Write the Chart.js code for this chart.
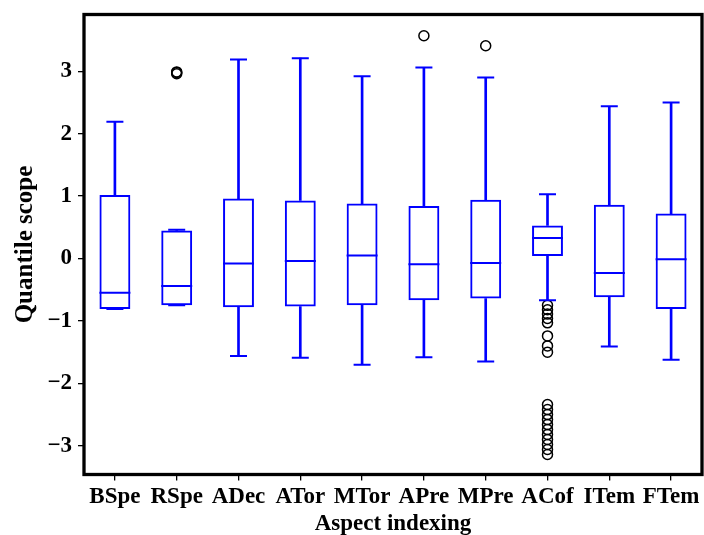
<!DOCTYPE html>
<html>
<head>
<meta charset="utf-8">
<script src="https://cdn.jsdelivr.net/npm/chart.js@4.4.0/dist/chart.umd.min.js"></script>
<style>
    html, body { margin: 0; padding: 0; background: #fff; }
    #wrap { width: 704px; height: 535px; }
</style>
</head>
<body>
<div id="wrap"><canvas id="graph" width="704" height="535"></canvas></div>
<script>
const categories = ['BSpe', 'RSpe', 'ADec', 'ATor', 'MTor', 'APre', 'MPre', 'ACof', 'ITem', 'FTem'];
const whiskerLow = [-0.81, -0.75, -1.56, -1.59, -1.70, -1.58, -1.65, -0.67, -1.41, -1.62];
const quartile1 = [-0.81, -0.75, -0.78, -0.77, -0.75, -0.67, -0.64, 0.04, -0.62, -0.81];
const medians = [-0.55, -0.44, -0.08, -0.04, 0.05, -0.09, -0.07, 0.33, -0.23, -0.01];
const quartile3 = [1.02, 0.45, 0.96, 0.93, 0.88, 0.84, 0.94, 0.53, 0.86, 0.72];
const whiskerHigh = [2.19, 0.46, 3.19, 3.21, 2.92, 3.06, 2.90, 1.03, 2.44, 2.50];

// outliers per category
const outliersRSpe = [2.96, 2.98, 2.99];
const outliersAPre = [3.57];
const outliersMPre = [3.41];
const outliersACof = [-0.75, -0.82, -0.89, -0.96, -1.03, -1.24, -1.40, -1.50,
    -2.34, -2.42, -2.50, -2.58, -2.66, -2.74, -2.82, -2.90, -2.98, -3.06, -3.14];

const yMin = -3.46;
const yMax = 3.91;

const BLUE = '#0000ff';
const FONT = "'Liberation Serif', 'Times New Roman', serif";

const outlierPoints = [];
outliersRSpe.forEach(v => outlierPoints.push({x: 'RSpe', y: v}));
outliersAPre.forEach(v => outlierPoints.push({x: 'APre', y: v}));
outliersMPre.forEach(v => outlierPoints.push({x: 'MPre', y: v}));
outliersACof.forEach(v => outlierPoints.push({x: 'ACof', y: v}));

const capPoints = [];
categories.forEach((c, i) => {
    capPoints.push({x: c, y: whiskerLow[i]});
    capPoints.push({x: c, y: whiskerHigh[i]});
});

// thick black frame round the plot area
const frame = {
    id: 'frame',
    afterDatasetsDraw(chart) {
        const {ctx, chartArea: a} = chart;
        ctx.save();
        ctx.strokeStyle = '#000';
        ctx.lineWidth = 3.3;
        ctx.strokeRect(a.left, a.top, a.right - a.left, a.bottom - a.top);
        ctx.restore();
    }
};

const graph = document.getElementById('graph');
new Chart(graph, {
    type: 'bar',
    data: {
        labels: categories,
        datasets: [{
            label: 'boxes',
            data: categories.map((c, i) => [quartile1[i], quartile3[i]]),
            backgroundColor: 'rgba(0,0,0,0)',
            borderColor: BLUE,
            borderWidth: 2,
            borderSkipped: false,
            barPercentage: 0.5,
            categoryPercentage: 1,
            grouped: false
        }, {
            label: 'upper whiskers',
            data: categories.map((c, i) => [quartile3[i], whiskerHigh[i]]),
            backgroundColor: BLUE,
            borderWidth: 0,
            barThickness: 2,
            grouped: false
        }, {
            label: 'lower whiskers',
            data: categories.map((c, i) => [whiskerLow[i], quartile1[i]]),
            backgroundColor: BLUE,
            borderWidth: 0,
            barThickness: 2,
            grouped: false
        }, {
            type: 'scatter',
            label: 'medians',
            data: categories.map((c, i) => ({x: c, y: medians[i]})),
            pointStyle: 'line',
            radius: 15.5,
            borderColor: BLUE,
            borderWidth: 2
        }, {
            type: 'scatter',
            label: 'caps',
            data: capPoints,
            pointStyle: 'line',
            radius: 8.5,
            borderColor: BLUE,
            borderWidth: 2
        }, {
            type: 'scatter',
            label: 'outliers',
            data: outlierPoints,
            pointStyle: 'circle',
            radius: 5,
            backgroundColor: 'rgba(0,0,0,0)',
            borderColor: '#000',
            borderWidth: 1.5
        }]
    },
    options: {
        responsive: false,
        animation: false,
        events: [],
        layout: {
            autoPadding: false,
            padding: {top: 14.5, right: 2, left: 0, bottom: 0}
        },
        plugins: {
            legend: {display: false},
            tooltip: {enabled: false}
        },
        scales: {
            x: {
                type: 'category',
                offset: true,
                grid: {
                    display: true,
                    offset: false,
                    drawOnChartArea: false,
                    drawTicks: true,
                    tickLength: 6,
                    color: '#000',
                    lineWidth: 1.3
                },
                border: {display: false},
                ticks: {
                    color: '#000',
                    padding: 3,
                    maxRotation: 0,
                    autoSkip: false,
                    font: {family: FONT, size: 23, weight: 'bold'}
                },
                title: {
                    display: true,
                    text: 'Aspect indexing',
                    color: '#000',
                    padding: {top: 0, bottom: -3},
                    font: {family: FONT, size: 23, weight: 'bold'}
                },
                afterFit(scale) {
                    scale.height = 60.5;
                    scale.paddingLeft = 0;
                    scale.paddingRight = 0;
                }
            },
            y: {
                type: 'linear',
                min: yMin,
                max: yMax,
                grid: {
                    display: true,
                    drawOnChartArea: false,
                    drawTicks: true,
                    tickLength: 6,
                    color: '#000',
                    lineWidth: 1.3
                },
                border: {display: false},
                ticks: {
                    stepSize: 1,
                    includeBounds: false,
                    color: '#000',
                    padding: 6,
                    font: {family: FONT, size: 23, weight: 'bold'},
                    callback: v => (v < 0 ? '\u2212' + Math.abs(v) : String(v))
                },
                title: {
                    display: true,
                    text: 'Quantile scope',
                    color: '#000',
                    padding: {top: 11, bottom: 0},
                    font: {family: FONT, size: 25, weight: 'bold'}
                },
                afterFit(scale) {
                    scale.width = 84;
                    scale.paddingTop = 0;
                    scale.paddingBottom = 0;
                }
            }
        }
    },
    plugins: [frame]
});
</script>
</body>
</html>
